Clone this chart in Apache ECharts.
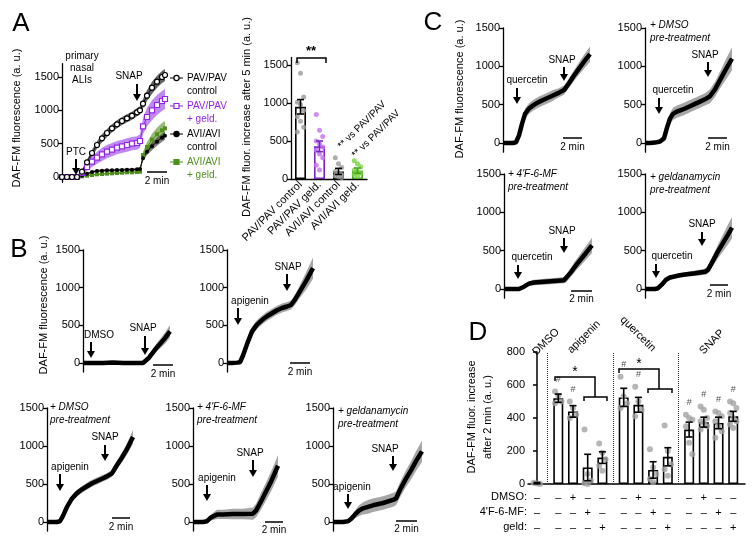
<!DOCTYPE html>
<html><head><meta charset="utf-8">
<script src="https://cdn.jsdelivr.net/npm/echarts@6/dist/echarts.min.js"></script>
<style>html,body{margin:0;padding:0;background:#fff}#c{width:753px;height:546px}</style>
</head><body><div id="c"></div>
<script>
const FONT = '"Liberation Sans", Arial, Helvetica, sans-serif';

// ===== Panel A: time courses (time in min, DAF-FM fluorescence a.u.) =====
const tA = [0,0.5,1,1.5,2,2.5,3,3.5,4,4.5,5,5.5,6,6.5,7,7.5,7.8,8.1,8.5,9,9.5,10,10.3];
const pavCtrlMean = [0,0,0,0,80,220,360,480,580,660,730,790,840,880,920,970,1000,1100,1220,1340,1430,1500,1530];
const pavCtrlSem  = [8,8,8,8,30,40,50,55,60,60,60,60,60,60,60,60,60,70,80,90,90,90,90];
const pavGeldMean = [0,0,0,0,60,150,230,290,340,380,410,440,460,480,500,510,540,760,900,1000,1080,1140,1170];
const pavGeldSem  = [8,8,8,8,40,60,80,90,100,100,100,100,100,100,100,100,100,120,140,150,150,150,150];
const aviCtrlMean = [0,0,0,0,20,50,75,90,95,100,100,105,105,110,110,115,120,280,380,460,530,590,620];
const aviCtrlSem  = [5,5,5,5,10,15,20,20,20,20,20,20,20,20,20,20,20,40,50,60,60,60,60];
const aviGeldMean = [0,0,0,0,10,20,30,40,45,50,55,60,65,70,70,75,80,330,450,560,640,700,730];
const aviGeldSem  = [5,5,5,5,10,10,15,15,15,15,15,15,15,15,15,15,15,50,70,90,100,110,110];

// ===== Panel A: bar chart (increase after 5 min) =====
const barACats = ['PAV/PAV control','PAV/PAV geld.','AVI/AVI control','AVI/AVI geld.'];
const barAMean = [950,430,100,110];
const barASem  = [95,70,40,35];
const barADots = [
  [1530,1390,1080,1010,980,900,820,760,680,620],
  [850,640,560,500,460,420,380,330,280,180,120],
  [280,200,150,100,80,60,40,30,20],
  [240,200,160,120,100,80,60,40]
];

// ===== Panel B: apigenin time courses =====
const tB1 = [0,1,2,3,4,5,6,6.2,6.6,7,7.4,7.8,8.2,8.7];
const meanB1 = [0,0,0,5,0,0,0,10,70,140,210,270,330,420];
const semB1  = [12,12,12,12,12,12,12,15,30,45,55,65,75,85];
const tB2 = [0,0.5,1,1.3,1.6,2,2.5,3,3.5,4,4.5,5,5.5,6,6.4,6.8,7.2,7.6,8,8.6];
const meanB2 = [0,0,5,10,100,250,420,510,570,620,660,700,730,750,770,840,930,1020,1110,1260];
const semB2  = [12,12,12,12,30,50,60,60,60,60,60,60,60,60,60,70,80,100,120,140];
const tB3 = [0,0.5,1,1.3,1.6,2,2.5,3,3.5,4,4.5,5,5.5,6,6.5,7,7.5,8,8.6];
const meanB3 = [0,0,0,10,80,200,310,380,430,470,510,540,570,600,640,750,850,960,1120];
const semB3  = [12,12,12,12,25,35,45,45,45,45,45,45,45,45,45,55,65,75,90];
const tB4 = [0,0.5,1,1.4,1.8,2.4,3,4,5,6,6.3,6.8,7.3,7.8,8.5];
const meanB4 = [0,0,0,10,60,100,100,105,105,110,150,270,400,530,740];
const semB4  = [15,15,15,15,40,60,60,70,70,80,90,110,120,130,140];
const tB5 = [0,0.5,1,1.5,1.8,2.2,2.6,3,3.5,4,5,6,6.3,6.8,7.3,7.8,8.3,8.9];
const meanB5 = [0,0,0,10,40,100,150,180,200,220,250,290,310,450,570,680,800,930];
const semB5  = [15,15,15,15,30,50,70,80,90,90,90,90,90,100,110,120,130,140];

// ===== Panel C: quercetin time courses =====
const tC1 = [0,0.5,1,1.3,1.6,1.9,2.2,2.6,3,3.5,4,4.5,5,5.5,6.1,6.6,7.1,7.6,8.1,8.7];
const meanC1 = [0,0,0,10,100,250,380,450,490,530,560,590,620,650,690,780,880,970,1060,1160];
const semC1  = [10,10,10,10,40,60,70,70,70,70,70,70,70,60,60,60,70,80,90,100];
const tC2 = [0,0.5,1,1.5,1.9,2.2,2.5,2.8,3.2,3.6,4,4.5,5,5.5,6,6.5,7,7.5,8,8.7];
const meanC2 = [0,0,5,20,60,200,320,380,410,430,450,480,510,540,570,610,700,820,940,1100];
const semC2  = [10,10,10,15,30,50,70,80,80,80,80,80,80,80,80,90,100,110,130,150];
const tC3 = [0,0.5,1,1.5,2,2.5,3,4,5,6,6.2,6.7,7.2,7.7,8.2,8.8];
const meanC3 = [0,0,0,0,30,70,85,95,105,115,130,220,310,390,470,570];
const semC3  = [10,10,10,10,20,30,35,40,40,40,45,60,70,80,90,100];
const tC4 = [0,0.5,1,1.3,1.7,2.1,2.5,3,3.5,4,5,6,6.3,6.8,7.3,7.8,8.3,8.7];
const meanC4 = [0,0,0,10,60,120,150,165,180,190,205,225,250,370,490,600,710,800];
const semC4  = [10,10,10,10,20,30,30,30,30,30,35,40,50,70,90,110,130,140];

// ===== Panel D: increase after 2 min =====
const dGroups = ['DMSO','apigenin','quercetin','SNAP'];
const dGroupSizes = [1,4,4,4];
const dMean = [5, 520,440,100,160, 525,480,85,165, 330,375,370,410];
const dSem  = [4, 25,35,80,35, 55,45,50,55, 45,30,35,30];
const dDots = [
  [8,3,0],
  [560,535,500,490],[500,460,420,400],[330,60,20,5,0],[245,190,150,110,80],
  [650,530,490,460],[590,500,450,410],[210,100,60,30,10],[355,200,120,90,50],
  [420,400,390,350,250,180],[470,450,400,380,370,350,330],[440,430,410,380,350,320,280],[500,490,460,430,400,380,360,340]
];
const dHash = [false, true,true,false,false, true,true,false,false, true,true,true,true];
const dRowDMSO = ['–', '–','+','–','–', '–','+','–','–', '–','+','–','–'];
const dRowMF   = ['–', '–','–','+','–', '–','–','+','–', '–','–','+','–'];
const dRowGeld = ['–', '–','–','–','+', '–','–','–','+', '–','–','–','+'];
const TRACE_TICKS = [0,500,1000,1500];

// ---------------- build ----------------
const PX_PER_MIN = 10;
const grids = [], xAxes = [], yAxes = [], series = [], graphics = [];
const blk = '#000';
const plainNum = v => String(Math.round(v));

function yTraceAxis(gi, ymin, ymax) {
  return {type:'value', gridIndex:gi, min:ymin, max:ymax,
    axisLine:{show:true, onZero:false, lineStyle:{color:blk, width:1.3}},
    axisTick:{show:true, length:4, customValues:TRACE_TICKS, lineStyle:{color:blk, width:1.3}},
    axisLabel:{customValues:TRACE_TICKS, color:blk, fontSize:11, fontFamily:FONT, margin:3, formatter:plainNum},
    splitLine:{show:false}};
}
function traceGrid(axisX, y0, y1500, ymin, ymax, tmax) {
  const k = (y0 - y1500) / 1500;
  const gi = grids.length;
  grids.push({left:axisX, top:y1500 - (ymax - 1500) * k, width:tmax * PX_PER_MIN,
              height:(ymax - ymin) * k, outerBoundsMode:'none', containLabel:false});
  xAxes.push({type:'value', gridIndex:gi, min:0, max:tmax, show:false});
  yAxes.push(yTraceAxis(gi, ymin, ymax));
  return gi;
}
function band(gi, t, m, s, color, z) {
  return {type:'custom', xAxisIndex:gi, yAxisIndex:gi, data:[[t[0], m[0]]], silent:true, z:z || 1,
    renderItem:(p, api) => {
      const up = t.map((tt, i) => api.coord([tt, m[i] + s[i]]));
      const lo = t.map((tt, i) => api.coord([tt, m[i] - s[i]])).reverse();
      return {type:'polygon', shape:{points:up.concat(lo)}, style:{fill:color}};
    }};
}
function trace(gi, t, m, extra) {
  return Object.assign({type:'line', xAxisIndex:gi, yAxisIndex:gi, data:t.map((x, i) => [x, m[i]]),
    symbol:'none', lineStyle:{color:blk, width:4.5}, z:3}, extra || {});
}

// Panel A traces
const PURPLE = '#9326e6', GREEN = '#4f8f1c';
const gA = traceGrid(62, 177, 77, -80, 1700, 10.5);
series.push(band(gA, tA, aviGeldMean, aviGeldSem, 'rgba(95,150,45,0.65)'));
series.push(band(gA, tA, aviCtrlMean, aviCtrlSem, 'rgba(40,40,40,0.6)'));
series.push(band(gA, tA, pavGeldMean, pavGeldSem, 'rgba(150,60,235,0.6)'));
series.push(band(gA, tA, pavCtrlMean, pavCtrlSem, 'rgba(30,30,30,0.7)'));
series.push(trace(gA, tA, aviGeldMean, {symbol:'rect', symbolSize:4, itemStyle:{color:GREEN}, lineStyle:{color:GREEN, width:1}}));
series.push(trace(gA, tA, aviCtrlMean, {symbol:'circle', symbolSize:4, itemStyle:{color:blk}, lineStyle:{color:blk, width:1}}));
series.push(trace(gA, tA, pavGeldMean, {symbol:'rect', symbolSize:5, itemStyle:{color:'#fff', borderColor:PURPLE, borderWidth:1.2}, lineStyle:{color:PURPLE, width:1}}));
series.push(trace(gA, tA, pavCtrlMean, {symbol:'circle', symbolSize:5, itemStyle:{color:'#fff', borderColor:blk, borderWidth:1.2}, lineStyle:{color:blk, width:1}}));

// Panel A bars
const gAB = grids.length;
grids.push({left:291, top:179 - 1600 * 38 / 500, width:76, height:1600 * 38 / 500, outerBoundsMode:'none', containLabel:false});
xAxes.push({type:'category', gridIndex:gAB, data:barACats,
  axisLine:{show:true, lineStyle:{color:blk, width:1.3}}, axisTick:{show:false},
  axisLabel:{rotate:45, fontSize:11, color:blk, fontFamily:FONT, margin:4, interval:0}});
yAxes.push({type:'value', gridIndex:gAB, min:0, max:1600,
  axisLine:{show:true, lineStyle:{color:blk, width:1.3}},
  axisTick:{show:true, length:4, customValues:TRACE_TICKS, lineStyle:{color:blk, width:1.3}},
  axisLabel:{customValues:TRACE_TICKS, color:blk, fontSize:11, fontFamily:FONT, margin:3, formatter:plainNum},
  splitLine:{show:false}});
const barABorder = [blk, '#7a22c9', blk, '#4aa320'];
const barADotColor = ['#9a9a9a', '#c46ff0', '#9a9a9a', '#74d63a'];
series.push({type:'bar', xAxisIndex:gAB, yAxisIndex:gAB, barWidth:11, z:2,
  data:barAMean.map((v, i) => ({value:v, itemStyle:{color:'#fff', borderColor:barABorder[i], borderWidth:1.6}}))});
const jit = i => ((i % 3) - 1) * 3.2;
series.push({type:'scatter', xAxisIndex:gAB, yAxisIndex:gAB, z:3, symbolSize:5,
  data:[].concat(...barADots.map((arr, c) => arr.map((v, i) => ({value:[c, v], symbolOffset:[jit(i), 0], itemStyle:{color:barADotColor[c]}}))))});
function errSeries(gi, xs, means, sems, colors, cap) {
  return {type:'custom', xAxisIndex:gi, yAxisIndex:gi, z:4, silent:true,
    data:means.map((m, i) => [xs[i], m, sems[i]]),
    renderItem:(p, api) => {
      const x = api.value(0), m = api.value(1), s = api.value(2);
      const a = api.coord([x, m + s]), b = api.coord([x, m - s]);
      const col = colors[p.dataIndex];
      const st = {stroke:col, lineWidth:1.6};
      return {type:'group', children:[
        {type:'line', shape:{x1:a[0], y1:a[1], x2:b[0], y2:b[1]}, style:st},
        {type:'line', shape:{x1:a[0] - cap, y1:a[1], x2:a[0] + cap, y2:a[1]}, style:st},
        {type:'line', shape:{x1:b[0] - cap, y1:b[1], x2:b[0] + cap, y2:b[1]}, style:st}]};
    }};
}
series.push(errSeries(gAB, [0, 1, 2, 3], barAMean, barASem, barABorder, 3.5));

// Panels B and C traces
const traceDefs = [
  {axisX:83,  y0:363, y1500:250, t:tB1, m:meanB1, s:semB1},
  {axisX:227, y0:363, y1500:250, t:tB2, m:meanB2, s:semB2},
  {axisX:47,  y0:522, y1500:408, t:tB3, m:meanB3, s:semB3},
  {axisX:193, y0:522, y1500:408, t:tB4, m:meanB4, s:semB4},
  {axisX:333, y0:522, y1500:408, t:tB5, m:meanB5, s:semB5},
  {axisX:503, y0:143, y1500:28,  t:tC1, m:meanC1, s:semC1},
  {axisX:645, y0:143, y1500:28,  t:tC2, m:meanC2, s:semC2},
  {axisX:504, y0:289, y1500:174, t:tC3, m:meanC3, s:semC3},
  {axisX:645, y0:289, y1500:174, t:tC4, m:meanC4, s:semC4}
];
traceDefs.forEach(d => {
  const gi = traceGrid(d.axisX, d.y0, d.y1500, -120, 1500, 9);
  series.push(band(gi, d.t, d.m, d.s, 'rgba(150,150,150,0.85)'));
  series.push(trace(gi, d.t, d.m));
});

// Panel D
const dPos = [];
{ let p = 0; dGroupSizes.forEach(n => { for (let j = 0; j < n; j++) dPos.push(p + j); p += n + 0.45; }); }
const dSeps = [];
{ let idx = 0; for (let g = 0; g < dGroupSizes.length - 1; g++) { idx += dGroupSizes[g]; dSeps.push((dPos[idx - 1] + dPos[idx]) / 2); } }
const gD = grids.length;
grids.push({left:528, top:352, width:217, height:132, outerBoundsMode:'none', containLabel:false});
const nearestIdx = v => { let b = 0; dPos.forEach((p, i) => { if (Math.abs(p - v) < Math.abs(dPos[b] - v)) b = i; }); return b; };
xAxes.push({type:'value', gridIndex:gD, min:dPos[0] - 0.61, max:dPos[dPos.length - 1] + 0.8,
  axisLine:{show:true, onZero:false, lineStyle:{color:blk, width:1.5}}, axisTick:{show:false}, splitLine:{show:false},
  axisLabel:{customValues:dPos, fontSize:11, color:blk, fontFamily:FONT, lineHeight:15, margin:6,
    formatter:v => { const i = nearestIdx(v); return dRowDMSO[i] + '\n' + dRowMF[i] + '\n' + dRowGeld[i]; }}});
yAxes.push({type:'value', gridIndex:gD, min:0, max:800, interval:200,
  axisLine:{show:true, lineStyle:{color:blk, width:1.5}},
  axisTick:{show:true, length:4, lineStyle:{color:blk, width:1.5}},
  axisLabel:{color:blk, fontSize:11, fontFamily:FONT, margin:3, formatter:plainNum}, splitLine:{show:false}});
series.push({type:'bar', xAxisIndex:gD, yAxisIndex:gD, barWidth:10, z:2,
  itemStyle:{color:'#fff', borderColor:blk, borderWidth:1.6},
  data:dMean.map((v, i) => [dPos[i], v]),
  markLine:{silent:true, symbol:['none', 'none'], label:{show:false},
    lineStyle:{type:'dotted', color:'#333', width:1}, data:dSeps.map(x => ({xAxis:x}))}});
series.push({type:'scatter', xAxisIndex:gD, yAxisIndex:gD, z:3, symbolSize:6, itemStyle:{color:'#a3a3a3'},
  data:[].concat(...dDots.map((arr, c) => arr.map((v, i) => ({value:[dPos[c], v], symbolOffset:[jit(i), 0]}))))});
series.push(errSeries(gD, dPos, dMean, dSem, dMean.map(() => blk), 3.5));
series.push({type:'scatter', xAxisIndex:gD, yAxisIndex:gD, z:5, symbolSize:1, itemStyle:{color:'rgba(0,0,0,0)'},
  label:{show:true, position:'top', distance:7, formatter:'#', fontSize:9, color:'#222', fontFamily:FONT},
  data:dPos.map((p, i) => dHash[i] ? [p, Math.max(...dDots[i])] : null).filter(Boolean)});

// ---------------- annotations ----------------
function T(x, y, s, o) { o = o || {};
  return {type:'text', x:x, y:y, rotation:o.rot || 0, z:10, silent:true,
    style:{text:s, fontSize:o.fs || 10, fontFamily:FONT, fontStyle:o.it ? 'italic' : 'normal',
      fontWeight:o.bold ? 'bold' : 'normal', fill:o.color || blk, align:o.align || 'center', verticalAlign:'middle'}}; }
function ARW(x, y1, y2) { return [
  {type:'line', z:10, silent:true, shape:{x1:x, y1:y1, x2:x, y2:y2 - 6}, style:{stroke:blk, lineWidth:2}},
  {type:'polygon', z:10, silent:true, shape:{points:[[x - 4, y2 - 7], [x + 4, y2 - 7], [x, y2]]}, style:{fill:blk}}]; }
function SB(x1, x2, y, ly) { return [
  {type:'line', z:10, silent:true, shape:{x1:x1, y1:y, x2:x2, y2:y}, style:{stroke:blk, lineWidth:1.5}},
  T((x1 + x2) / 2, ly, '2 min')]; }
function PL(pts) { return {type:'polyline', z:10, silent:true, shape:{points:pts}, style:{stroke:blk, lineWidth:1.5, fill:null}}; }
const R90 = Math.PI / 2, R45 = Math.PI / 4;
const ylab = 'DAF-FM fluorescence (a. u.)';

// panel letters
graphics.push(T(21, 24, 'A', {fs:26}), T(19, 250, 'B', {fs:26}), T(433, 23, 'C', {fs:26}), T(478, 333, 'D', {fs:26}));
// A traces
graphics.push(T(17, 118, ylab, {fs:11, rot:R90}));
graphics.push(T(82, 56, 'primary'), T(82, 68, 'nasal'), T(82, 80, 'ALIs'));
graphics.push(T(76, 152, 'PTC'), ...ARW(76, 159, 175));
graphics.push(T(129, 76, 'SNAP'), ...ARW(137, 84, 101));
graphics.push(...SB(147, 167, 172, 181));
const legendItems = [
  {l1:'PAV/PAV', l2:'control', col:blk, txt:blk, open:true, sq:false},
  {l1:'PAV/PAV', l2:'+ geld.', col:PURPLE, txt:PURPLE, open:true, sq:true},
  {l1:'AVI/AVI', l2:'control', col:blk, txt:blk, open:false, sq:false},
  {l1:'AVI/AVI', l2:'+ geld.', col:GREEN, txt:GREEN, open:false, sq:true}
];
legendItems.forEach((it, i) => {
  const y = 78 + 28 * i;
  graphics.push({type:'line', z:10, shape:{x1:170, y1:y, x2:183, y2:y}, style:{stroke:it.col, lineWidth:1}});
  if (it.sq) graphics.push({type:'rect', z:11, shape:{x:174, y:y - 2.5, width:5, height:5}, style:{fill:it.open ? '#fff' : it.col, stroke:it.col, lineWidth:1.2}});
  else graphics.push({type:'circle', z:11, shape:{cx:176.5, cy:y, r:2.6}, style:{fill:it.open ? '#fff' : it.col, stroke:it.col, lineWidth:1.2}});
  graphics.push(T(187, y, it.l1, {align:'left', color:it.txt}), T(187, y + 13.5, it.l2, {align:'left', color:it.txt}));
});
// A bars
graphics.push(T(247, 117, 'DAF-FM fluor. increase after 5 min (a. u.)', {fs:11, rot:R90}));
graphics.push(T(311, 51, '**', {fs:13, bold:true}), PL([[297, 63], [297, 58], [326, 58], [326, 63]]));
graphics.push(T(362, 125, '** vs PAV/PAV', {rot:R45}), T(376, 134, '** vs PAV/PAV', {rot:R45}));
// B
graphics.push(T(44, 305, ylab, {fs:11, rot:R90}));
graphics.push(T(99, 335, 'DMSO'), ...ARW(91, 342, 358), T(143, 328, 'SNAP'), ...ARW(145, 336, 355), ...SB(153, 173, 365, 374));
graphics.push(T(250, 301, 'apigenin'), ...ARW(238, 308, 325), T(288, 267, 'SNAP'), ...ARW(287, 274, 291), ...SB(290, 310, 363, 372));
graphics.push(T(50, 407, '+ DMSO', {align:'left', it:true}), T(50, 420, 'pre-treatment', {align:'left', it:true}));
graphics.push(T(70, 467, 'apigenin'), ...ARW(60, 474, 491), T(105, 437, 'SNAP'), ...ARW(105, 445, 461), ...SB(112, 130, 518, 527));
graphics.push(T(197, 407, '+ 4\'F-6-MF', {align:'left', it:true}), T(197, 420, 'pre-treatment', {align:'left', it:true}));
graphics.push(T(217, 478, 'apigenin'), ...ARW(207, 485, 501), T(250, 453, 'SNAP'), ...ARW(253, 460, 477), ...SB(265, 283, 522, 530));
graphics.push(T(338, 411, '+ geldanamycin', {align:'left', it:true}), T(338, 424, 'pre-treatment', {align:'left', it:true}));
graphics.push(T(352, 487, 'apigenin'), ...ARW(348, 494, 509), T(385, 449, 'SNAP'), ...ARW(393, 456, 471), ...SB(396, 417, 521, 529));
// C
graphics.push(T(460, 89, ylab, {fs:11, rot:R90}));
graphics.push(T(527, 80, 'quercetin'), ...ARW(517, 88, 104), T(562, 60, 'SNAP'), ...ARW(564, 67, 81), ...SB(563, 582, 138, 147));
graphics.push(T(650, 25, '+ DMSO', {align:'left', it:true}), T(650, 38, 'pre-treatment', {align:'left', it:true}));
graphics.push(T(673, 90, 'quercetin'), ...ARW(659, 98, 114), T(705, 55, 'SNAP'), ...ARW(708, 62, 77), ...SB(708, 727, 138, 147));
graphics.push(T(508, 174, '+ 4\'F-6-MF', {align:'left', it:true}), T(508, 187, 'pre-treatment', {align:'left', it:true}));
graphics.push(T(532, 257, 'quercetin'), ...ARW(518, 265, 279), T(562, 231, 'SNAP'), ...ARW(564, 238, 253), ...SB(571, 592, 291, 299));
graphics.push(T(650, 177, '+ geldanamycin', {align:'left', it:true}), T(650, 190, 'pre-treatment', {align:'left', it:true}));
graphics.push(T(672, 256, 'quercetin'), ...ARW(656, 264, 278), T(702, 224, 'SNAP'), ...ARW(702, 232, 246), ...SB(710, 728, 285, 294));
// D
graphics.push(T(472, 417, 'DAF-FM fluor. increase', {fs:11, rot:R90}), T(488, 417, 'after 2 min (a. u.)', {fs:11, rot:R90}));
graphics.push(T(546, 342, dGroups[0], {fs:11, rot:R45}), T(584, 337, dGroups[1], {fs:11, rot:R45}),
  T(638, 334, dGroups[2], {fs:11, rot:-R45}), T(712, 342, dGroups[3], {fs:11, rot:R45}));
graphics.push(T(527, 497, 'DMSO:', {fs:11, align:'right'}), T(527, 512, '4\'F-6-MF:', {fs:11, align:'right'}), T(527, 527, 'geld:', {fs:11, align:'right'}));
graphics.push(PL([[555, 381], [555, 377], [595, 377], [595, 397]]), PL([[584, 401], [584, 397], [607, 397], [607, 401]]), T(575, 372, '*', {fs:14}));
graphics.push(PL([[619, 373], [619, 369], [659, 369], [659, 389]]), PL([[648, 393], [648, 389], [672, 389], [672, 393]]), T(639, 364, '*', {fs:14}));

const chart = echarts.init(document.getElementById('c'), null, {renderer:'canvas', width:753, height:546});
chart.setOption({
  animation:false, backgroundColor:'#fff', textStyle:{fontFamily:FONT},
  grid:grids, xAxis:xAxes, yAxis:yAxes, series:series, graphic:graphics
});
</script></body></html>
